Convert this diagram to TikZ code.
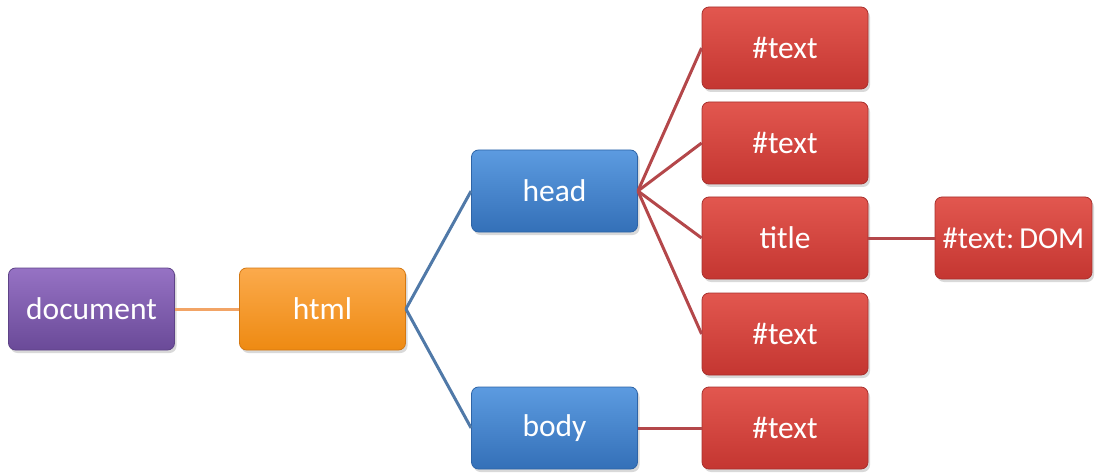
\documentclass[tikz,border=0pt]{standalone}
\usepackage{fontspec}
\setmainfont{Carlito}
\usetikzlibrary{shadows}
\definecolor{pTop}{HTML}{9672C4}
\definecolor{pBot}{HTML}{6A4A98}
\definecolor{pDraw}{HTML}{5E4387}
\definecolor{oTop}{HTML}{FBAA4C}
\definecolor{oBot}{HTML}{EE8A12}
\definecolor{oDraw}{HTML}{D47812}
\definecolor{bTop}{HTML}{5C9BE0}
\definecolor{bBot}{HTML}{3470B8}
\definecolor{bDraw}{HTML}{2E64A6}
\definecolor{rTop}{HTML}{E2574F}
\definecolor{rBot}{HTML}{C43631}
\definecolor{rDraw}{HTML}{A8302D}
\definecolor{lineO}{HTML}{F2A466}
\definecolor{lineB}{HTML}{5079A8}
\definecolor{lineR}{HTML}{B4474A}
\begin{document}
\begin{tikzpicture}[x=1pt,y=-1pt,
  box/.style={rounded corners=7pt, minimum width=166pt, minimum height=82pt, inner sep=0pt,
    font=\fontsize{31.5}{36}\selectfont, text=white, line width=0.8pt,
    drop shadow={shadow xshift=2pt,shadow yshift=-3pt,opacity=0.3}},
  purplebox/.style={box, top color=pTop, bottom color=pBot, draw=pDraw},
  orangebox/.style={box, top color=oTop, bottom color=oBot, draw=oDraw},
  bluebox/.style={box, top color=bTop, bottom color=bBot, draw=bDraw},
  redbox/.style={box, top color=rTop, bottom color=rBot, draw=rDraw},
  link/.style={line width=3pt}]
\useasboundingbox (0,0) rectangle (1097,473);
\node[purplebox] (doc) at (91.5,309) {document};
\node[orangebox] (html) at (322.5,309) {html};
\node[bluebox] (head) at (554.5,191) {head};
\node[bluebox] (body) at (554.5,428) {body};
\node[redbox] (t1) at (785,48) {\#text};
\node[redbox] (t2) at (785,143) {\#text};
\node[redbox] (title) at (785,238) {title};
\node[redbox] (t4) at (785,334) {\#text};
\node[redbox] (t5) at (785,428) {\#text};
\node[redbox, minimum width=157pt, font=\fontsize{30.5}{36}\selectfont] (dom) at (1013.5,238) {\#text:\,DOM};
\draw[link, lineO] (doc.east) -- (html.west);
\draw[link, lineB] (html.east) -- (head.west);
\draw[link, lineB] (html.east) -- (body.west);
\draw[link, lineR] (head.east) -- (t1.west);
\draw[link, lineR] (head.east) -- (t2.west);
\draw[link, lineR] (head.east) -- (title.west);
\draw[link, lineR] (head.east) -- (t4.west);
\draw[link, lineR] (body.east) -- (t5.west);
\draw[link, lineR] (title.east) -- (dom.west);
\end{tikzpicture}
\end{document}
